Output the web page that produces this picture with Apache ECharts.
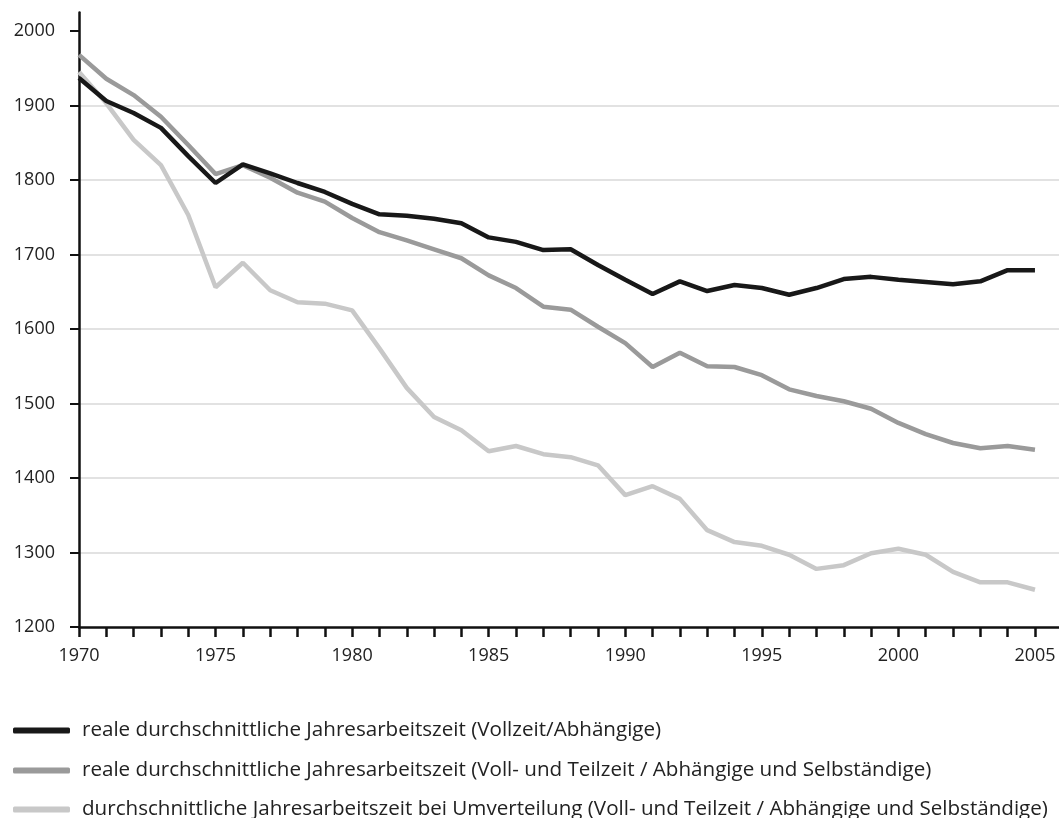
<!DOCTYPE html>
<html>
<head>
<meta charset="utf-8">
<script src="https://cdn.jsdelivr.net/npm/echarts@6/dist/echarts.min.js"></script>
<style>html,body{margin:0;padding:0;background:#fff;}#c{width:1059px;height:818px;}</style>
</head>
<body>
<div id="c"></div>
<script>
const years = [1970,1971,1972,1973,1974,1975,1976,1977,1978,1979,1980,1981,1982,1983,1984,1985,1986,1987,1988,1989,1990,1991,1992,1993,1994,1995,1996,1997,1998,1999,2000,2001,2002,2003,2004,2005];
const vollzeit = [1937,1906,1890,1870,1832,1796,1821,1809,1796,1784,1768,1754,1752,1748,1742,1723,1717,1706,1707,1686,1666,1647,1664,1651,1659,1655,1646,1655,1667,1670,1666,1663,1660,1664,1679,1679];
const vollTeil = [1968,1936,1914,1885,1847,1808,1820,1803,1783,1771,1749,1730,1719,1707,1695,1672,1655,1630,1626,1603,1581,1549,1568,1550,1549,1538,1519,1510,1503,1493,1474,1459,1447,1440,1443,1438];
const umverteilung = [1945,1903,1854,1820,1753,1656,1689,1652,1636,1634,1625,1574,1521,1482,1464,1436,1443,1432,1428,1417,1377,1389,1372,1330,1314,1309,1297,1278,1283,1299,1305,1297,1274,1260,1260,1250];
const xLabelYears = [1970,1975,1980,1985,1990,1995,2000,2005];
const yTicks = [1200,1300,1400,1500,1600,1700,1800,1900,2000];
const names = [
  'reale durchschnittliche Jahresarbeitszeit (Vollzeit/Abhängige)',
  'reale durchschnittliche Jahresarbeitszeit (Voll- und Teilzeit / Abhängige und Selbständige)',
  'durchschnittliche Jahresarbeitszeit bei Umverteilung (Voll- und Teilzeit / Abhängige und Selbständige)'
];
const colors = ['#181818','#9a9a9a','#c8c8c8'];

const pairs = arr => years.map((y,i)=>[y,arr[i]]);
const FONT = 'Open Sans';

function legendAt(i, top){
  return {
    show: true, orient:'vertical', left: 8, top: top,
    data:[{name:names[i], icon:'roundRect'}],
    itemWidth: 57, itemHeight: 6,
    selectedMode:false,
    textStyle:{fontFamily:FONT, fontSize:20.6, color:'#222', padding:[0,0,0,7]}
  };
}

const chart = echarts.init(document.getElementById('c'));
chart.setOption({
  animation:false,
  backgroundColor:'#fff',
  color: colors,
  grid:{left:79, right:0, top:12.4, bottom:191, containLabel:false},
  legend:[legendAt(0,715), legendAt(1,755), legendAt(2,794)],
  xAxis:{
    type:'value', min:1970, max:2005.88, interval:1,
    axisLine:{show:true, onZero:false, lineStyle:{color:'#111', width:2.5}},
    axisTick:{show:true, inside:false, length:10, lineStyle:{color:'#111', width:2.5}, customValues: years},
    axisLabel:{customValues: xLabelYears, margin:20, fontFamily:FONT, fontSize:18, color:'#222', formatter: v => String(v)},
    splitLine:{show:false}
  },
  yAxis:{
    type:'value', min:1200, max:2025, interval:100,
    axisLine:{show:true, lineStyle:{color:'#111', width:2.5}},
    axisTick:{show:true, length:9, lineStyle:{color:'#111', width:2}, customValues: yTicks},
    axisLabel:{customValues: yTicks, margin:24, fontFamily:FONT, fontSize:18, color:'#222', formatter: v => String(v)},
    splitLine:{show:true, showMaxLine:false, showMinLine:false, lineStyle:{color:'#e2e2e2', width:2}}
  },
  series:[
    {name:names[2], type:'line', data:pairs(umverteilung), symbol:'none', z:2, lineStyle:{width:4.5, color:colors[2]}, itemStyle:{color:colors[2]}},
    {name:names[1], type:'line', data:pairs(vollTeil), symbol:'none', z:3, lineStyle:{width:4.5, color:colors[1]}, itemStyle:{color:colors[1]}},
    {name:names[0], type:'line', data:pairs(vollzeit), symbol:'none', z:4, lineStyle:{width:4.5, color:colors[0]}, itemStyle:{color:colors[0]}}
  ]
});
</script>
</body>
</html>
